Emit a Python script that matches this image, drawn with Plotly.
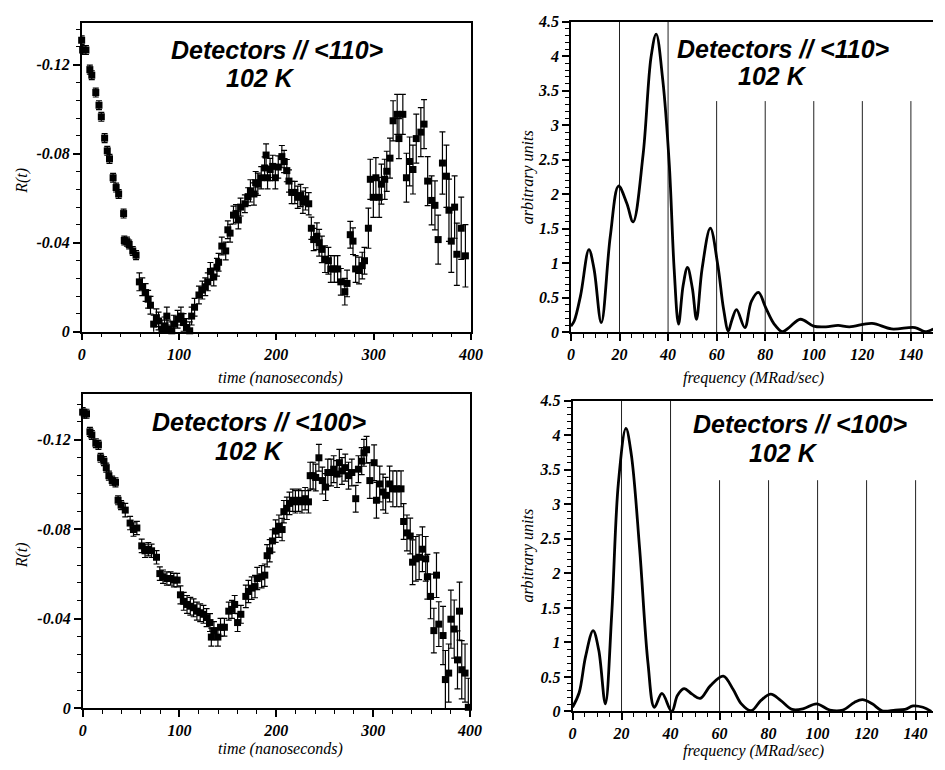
import plotly.graph_objects as go

# ---------------- <110> detectors: time spectrum R(t) ----------------
t110 = [0, 1, 4.4, 8.4, 10.4, 14.5, 17.8, 20.2, 23.6, 26.3, 28.6, 32.3, 35.4, 38, 43.1, 43.8, 46.5, 48.8,
        52.5, 55.9, 59.3, 62.3, 65.7, 68.3, 70.7, 74, 76.8, 79, 82.5, 85.2, 87.5, 88.6, 92.6, 94.6, 98.6,
        102, 104.7, 107.7, 111, 113, 116, 120.5, 124, 127, 129.6, 132.3, 135.7, 139, 140.7, 144, 148,
        150.2, 152.5, 156, 158.6, 161, 163.3, 167.7, 171, 173.4, 177, 178.8, 181, 184.5, 188, 189.5, 191,
        193.6, 196.3, 199, 202, 205.7, 208, 210.8, 213, 215.8, 219, 222, 225, 227.3, 230, 233.3, 236,
        238.4, 241.7, 244, 246.8, 250, 253.5, 256, 259.6, 263, 266.3, 270.4, 272.7, 276, 278.8, 281.5,
        285, 288.3, 290.6, 294.6, 296.6, 299.7, 302.3, 305.7, 308, 311.4, 313.5, 316.8, 320, 324.2, 326,
        330, 333.7, 337, 340.4, 343.8, 348.5, 351.8, 355.5, 359.6, 363, 366.3, 370.7, 374.8, 377.4,
        379.8, 383.2, 385.5, 390, 394.3]
r110 = [-0.131, -0.1266, -0.1266, -0.1178, -0.1153, -0.1075, -0.1018, -0.0966, -0.087, -0.0813, -0.0777,
        -0.0692, -0.0648, -0.0619, -0.0531, -0.041, -0.0405, -0.0392, -0.0363, -0.0344, -0.0224, -0.0202,
        -0.0176, -0.0146, -0.0119, -0.0034, -0.0063, -0.0048, -0.0012, -0.0026, -0.007, -0.0012, -0.0004,
        -0.0034, -0.0056, -0.007, -0.0041, -0.0019, -0.0004, -0.007, -0.011, -0.0165, -0.0187, -0.0202,
        -0.0224, -0.0271, -0.0246, -0.029, -0.0312, -0.0385, -0.0363, -0.0458, -0.0443, -0.0524, -0.0531,
        -0.0502, -0.056, -0.0575, -0.0607, -0.0633, -0.0619, -0.067, -0.0663, -0.0692, -0.0736, -0.0794,
        -0.0692, -0.0729, -0.0743, -0.0692, -0.074, -0.0787, -0.0765, -0.0724, -0.0677, -0.0626, -0.0626,
        -0.0604, -0.0612, -0.0582, -0.0597, -0.0575, -0.0465, -0.0414, -0.0429, -0.04, -0.037, -0.0326,
        -0.0319, -0.0282, -0.0282, -0.0282, -0.0224, -0.018, -0.0217, -0.0436, -0.0407, -0.0282, -0.0275,
        -0.0297, -0.0319, -0.0465, -0.0685, -0.0604, -0.0692, -0.0604, -0.0663, -0.0685, -0.0721, -0.078,
        -0.0948, -0.0977, -0.0868, -0.0977, -0.0692, -0.0765, -0.0729, -0.0868, -0.0897, -0.0933,
        -0.0677, -0.059, -0.0568, -0.0414, -0.0758, -0.0699, -0.0546, -0.0407, -0.056, -0.0348, -0.0465,
        -0.0341]
e110 = [0.002, 0.002, 0.002, 0.002, 0.002, 0.002, 0.002, 0.002, 0.002, 0.002, 0.002, 0.002, 0.002, 0.002,
        0.002, 0.002, 0.002, 0.002, 0.002, 0.002, 0.004, 0.004, 0.004, 0.004, 0.004, 0.004, 0.004, 0.004,
        0.004, 0.004, 0.004, 0.004, 0.004, 0.004, 0.004, 0.004, 0.004, 0.004, 0.004, 0.004, 0.004, 0.004,
        0.004, 0.004, 0.004, 0.004, 0.004, 0.004, 0.004, 0.004, 0.004, 0.004, 0.004, 0.004, 0.004, 0.004,
        0.004, 0.004, 0.004, 0.005, 0.005, 0.005, 0.005, 0.005, 0.005, 0.005, 0.005, 0.005, 0.005, 0.005,
        0.005, 0.005, 0.005, 0.005, 0.005, 0.005, 0.005, 0.005, 0.005, 0.005, 0.005, 0.005, 0.005, 0.005,
        0.006, 0.006, 0.006, 0.006, 0.006, 0.006, 0.006, 0.006, 0.006, 0.006, 0.006, 0.006, 0.006, 0.006,
        0.006, 0.006, 0.006, 0.009, 0.009, 0.009, 0.009, 0.009, 0.009, 0.009, 0.009, 0.009, 0.009, 0.009,
        0.009, 0.009, 0.011, 0.011, 0.011, 0.011, 0.011, 0.011, 0.011, 0.011, 0.011, 0.011, 0.014, 0.014,
        0.014, 0.014, 0.014, 0.014, 0.014, 0.014]

# ---------------- <100> detectors: time spectrum R(t) ----------------
t100 = [0, 1.7, 4, 7.5, 9.5, 13.6, 16.3, 18.6, 22, 24.4, 27.1, 30.5, 33.9, 36.6, 39.7, 44, 49, 52.5, 56,
        61, 64.4, 67.8, 71.2, 76.3, 79.7, 83, 87, 90.8, 94.2, 97.6, 101, 104.4, 107.8, 111.2, 114.6, 118,
        121.4, 124.8, 128, 131.5, 132.9, 135.6, 139.7, 142.4, 146.4, 150.9, 154.2, 157, 160, 163.4, 168.5,
        171.2, 174.6, 178, 180.3, 184.8, 188.1, 190.5, 193.2, 196, 199.3, 202.7, 206, 207.8, 210.9, 213.6,
        217, 219.7, 223, 226.5, 229.8, 233.2, 235, 238, 240.7, 244, 247.5, 250.9, 253.2, 256.6, 259.3,
        262.7, 265.1, 267.8, 271.2, 274.6, 278, 282, 284.8, 288.2, 290.5, 293.2, 296.6, 301, 303.4, 306.8,
        310.2, 312.9, 317, 320.4, 324.4, 328.8, 331.5, 334.9, 338.3, 340.7, 344.1, 347.5, 350.9, 354.3,
        356, 359.3, 362.7, 365.4, 367.8, 372.2, 374.6, 378, 380.3, 383.7, 387.1, 389.2, 391.5, 394.9,
        398.3]
r100 = [-0.1324, -0.1317, -0.1317, -0.1236, -0.1222, -0.1185, -0.1178, -0.112, -0.1105, -0.1076, -0.104,
        -0.1018, -0.101, -0.093, -0.0908, -0.0886, -0.0828, -0.0799, -0.0806, -0.0726, -0.0704, -0.0711,
        -0.0704, -0.0675, -0.0602, -0.0588, -0.058, -0.058, -0.0573, -0.0573, -0.0507, -0.0478, -0.0464,
        -0.0456, -0.0449, -0.0434, -0.0427, -0.042, -0.0405, -0.0383, -0.0318, -0.0347, -0.0318, -0.0362,
        -0.0362, -0.0434, -0.0442, -0.0464, -0.0383, -0.042, -0.05, -0.0522, -0.0537, -0.0544, -0.058,
        -0.0588, -0.0595, -0.0682, -0.0704, -0.0748, -0.0792, -0.0814, -0.0799, -0.0879, -0.0894,
        -0.0916, -0.093, -0.0923, -0.093, -0.0923, -0.0937, -0.0923, -0.104, -0.104, -0.1032, -0.112,
        -0.1018, -0.0989, -0.1054, -0.1054, -0.1069, -0.1047, -0.1098, -0.1061, -0.1076, -0.104, -0.1054,
        -0.0937, -0.1069, -0.1105, -0.1142, -0.1156, -0.1018, -0.1098, -0.093, -0.1003, -0.0967, -0.0952,
        -0.1003, -0.0981, -0.0981, -0.0981, -0.0835, -0.0784, -0.077, -0.0653, -0.0668, -0.0675, -0.0711,
        -0.0668, -0.0588, -0.05, -0.0347, -0.0595, -0.0376, -0.0325, -0.0128, -0.0157, -0.0398, -0.0354,
        -0.0216, -0.0434, -0.0172, -0.0157, -0.0004]
e100 = [0.002, 0.002, 0.002, 0.002, 0.002, 0.002, 0.002, 0.002, 0.002, 0.002, 0.002, 0.002, 0.002, 0.002,
        0.002, 0.003, 0.003, 0.003, 0.003, 0.003, 0.003, 0.003, 0.003, 0.003, 0.003, 0.003, 0.003, 0.003,
        0.003, 0.003, 0.004, 0.004, 0.004, 0.004, 0.004, 0.004, 0.004, 0.004, 0.004, 0.004, 0.004, 0.004,
        0.004, 0.004, 0.004, 0.004, 0.004, 0.004, 0.004, 0.004, 0.005, 0.005, 0.005, 0.005, 0.005, 0.005,
        0.005, 0.005, 0.005, 0.005, 0.005, 0.005, 0.005, 0.005, 0.005, 0.005, 0.005, 0.005, 0.005, 0.005,
        0.005, 0.005, 0.006, 0.006, 0.006, 0.006, 0.006, 0.006, 0.006, 0.006, 0.006, 0.006, 0.006, 0.006,
        0.006, 0.006, 0.006, 0.006, 0.006, 0.006, 0.006, 0.006, 0.008, 0.008, 0.008, 0.008, 0.008, 0.008,
        0.008, 0.008, 0.008, 0.008, 0.008, 0.008, 0.008, 0.01, 0.01, 0.01, 0.01, 0.01, 0.01, 0.01, 0.01,
        0.01, 0.01, 0.013, 0.013, 0.013, 0.013, 0.013, 0.013, 0.013, 0.013, 0.013, 0.013]

# ---------------- Fourier spectra ----------------
f110 = [0, 1.35, 4, 7.4, 9.5, 12.5, 16.2, 19.6, 23, 25.6, 29.7, 33, 35.1, 37.8, 40.5, 42.5, 44.3, 46.2, 48,
        50, 51.7, 54, 57.4, 60.5, 62.8, 64.8, 66.2, 68.2, 71.6, 74.3, 77.2, 80.3, 83.7, 87, 89.8, 94.5,
        99.9, 105, 110, 114.7, 124, 132, 141.7, 145.8, 149.2]
a110 = [0.09, 0.165, 0.54, 1.2, 0.92, 0.14, 1.39, 2.12, 1.87, 1.6, 2.57, 3.99, 4.32, 3.66, 2.43, 0.92, 0.12,
        0.68, 0.94, 0.64, 0.19, 0.92, 1.51, 0.97, 0.35, 0.02, 0.17, 0.33, 0.07, 0.45, 0.58, 0.35, 0.12,
        0.01, 0.07, 0.19, 0.09, 0.08, 0.1, 0.08, 0.13, 0.05, 0.07, 0.01, 0.05]

f100 = [0, 2.7, 5.3, 8.4, 10.7, 13.4, 16, 18.7, 21.8, 24, 27.4, 30.8, 33.4, 36.5, 40.5, 42.8, 45.5, 48.8,
        52.1, 56.2, 61.5, 65.5, 68.9, 72.9, 76.9, 80.9, 84.9, 89.6, 94.3, 99.6, 105, 110.3, 115, 118.3,
        122.3, 126.3, 131.7, 135.7, 139, 143, 146.4]
a100 = [0.06, 0.27, 0.79, 1.17, 0.89, 0.11, 1.41, 3.3, 4.1, 3.72, 2.35, 0.7, 0.06, 0.26, 0.0, 0.23, 0.33,
        0.25, 0.19, 0.37, 0.51, 0.32, 0.11, 0.01, 0.16, 0.25, 0.16, 0.03, 0.04, 0.11, 0.02, 0.02, 0.13,
        0.17, 0.11, 0.01, 0.02, 0.03, 0.08, 0.06, 0.0]

time_ticks = [0, 100, 200, 300, 400]
r_ticks = [0, -0.04, -0.08, -0.12]
r_labels = ["0", "-0.04", "-0.08", "-0.12"]
freq_grid_full = [20, 40]
freq_grid_short = [60, 80, 100, 120, 140]

W, H = 945, 770
SERIF = "Liberation Serif"
SANS = "Liberation Sans"
tick_font = dict(family=SERIF, size=16, color="black", weight="bold", style="italic")
title_font = dict(family=SERIF, size=16, color="black", style="italic")
label_font = dict(family=SANS, size=25, color="black", weight="bold", style="italic")


def px_x(p):
    return p / W


def px_y(p):
    return 1 - p / H


fig = go.Figure()


def add_points(t, r, e, xa, ya):
    fig.add_trace(go.Scatter(
        x=t, y=r, mode="markers", xaxis=xa, yaxis=ya, cliponaxis=False,
        marker=dict(symbol="square", size=7, color="black"),
        error_y=dict(type="data", array=e, visible=True, color="black", thickness=1.2, width=3),
        showlegend=False, hoverinfo="x+y"))


def add_spectrum(f, a, xa, ya):
    fig.add_trace(go.Scatter(
        x=f, y=a, mode="lines", xaxis=xa, yaxis=ya,
        line=dict(color="black", width=2.8, shape="spline", smoothing=1.0),
        showlegend=False))


add_points(t110, r110, e110, "x", "y")
add_spectrum(f110, a110, "x2", "y2")
add_points(t100, r100, e100, "x3", "y3")
add_spectrum(f100, a100, "x4", "y4")


def major_axis(**kw):
    base = dict(showline=True, linecolor="black", linewidth=1.5, showgrid=False, zeroline=False,
                ticks="outside", ticklen=7, tickwidth=1.5, tickcolor="black", tickfont=tick_font)
    base.update(kw)
    return base


def minor_ticks(step):
    return dict(dtick=step, tick0=0, ticklen=4, tickwidth=1, ticks="outside", tickcolor="black")


fig.update_layout(
    # time-axis panels (left column); R(t) runs from 0 at the bottom to negative values upward
    xaxis=major_axis(domain=[px_x(79), px_x(475)], range=[0, 400], tickmode="array",
                     tickvals=time_ticks, mirror=True, minor=minor_ticks(20), anchor="y"),
    yaxis=major_axis(domain=[px_y(331), px_y(15)], range=[0, -0.1389], tickmode="array",
                     tickvals=r_ticks, ticktext=r_labels, mirror=True, minor=minor_ticks(0.008),
                     anchor="x"),
    xaxis3=major_axis(domain=[px_x(80), px_x(474)], range=[0, 400], tickmode="array",
                      tickvals=time_ticks, mirror=True, minor=minor_ticks(20), anchor="y3"),
    yaxis3=major_axis(domain=[px_y(716), px_y(395)], range=[0, -0.1404], tickmode="array",
                      tickvals=r_ticks, ticktext=r_labels, mirror=True, minor=minor_ticks(0.008),
                      anchor="x3"),
    # frequency-axis panels (right column)
    xaxis2=major_axis(domain=[px_x(576.7), 1.0], range=[0, 149.1], tickmode="linear", tick0=0,
                      dtick=20, mirror=True, minor=minor_ticks(5), anchor="y2"),
    yaxis2=major_axis(domain=[px_y(331.7), px_y(14)], range=[0, 4.5], tickmode="linear", tick0=0,
                      dtick=0.5, minor=minor_ticks(0.1), anchor="x2"),
    xaxis4=major_axis(domain=[px_x(578.3), 1.0], range=[0, 147.1], tickmode="linear", tick0=0,
                      dtick=20, mirror=True, minor=minor_ticks(5), anchor="y4"),
    yaxis4=major_axis(domain=[px_y(719.3), px_y(401.7)], range=[0, 4.5], tickmode="linear", tick0=0,
                      dtick=0.5, minor=minor_ticks(0.1), anchor="x4"),
)

# vertical reference lines in the spectra
shapes = []
for xr, yr in [("x2", "y2"), ("x4", "y4")]:
    for g in freq_grid_full:
        shapes.append(dict(type="line", xref=xr, yref=yr, x0=g, x1=g, y0=0, y1=4.5,
                           line=dict(color="#222", width=1), layer="below"))
    for g in freq_grid_short:
        shapes.append(dict(type="line", xref=xr, yref=yr, x0=g, x1=g, y0=0, y1=3.35,
                           line=dict(color="#222", width=1), layer="below"))
fig.update_layout(shapes=shapes)

annotations = []


def note(text, x, y, font, angle=0):
    annotations.append(dict(text=text, x=px_x(x), y=px_y(y), xref="paper", yref="paper",
                            showarrow=False, font=font, textangle=angle,
                            xanchor="center", yanchor="middle"))


# panel labels
note("Detectors // &lt;110&gt;", 278, 43, label_font)
note("102 K", 261, 72, label_font)
note("Detectors // &lt;110&gt;", 793, 42, label_font)
note("102 K", 782, 70, label_font)
note("Detectors // &lt;100&gt;", 259, 423, label_font)
note("102 K", 250, 453, label_font)
note("Detectors // &lt;100&gt;", 810, 425, label_font)
note("102 K", 793, 455, label_font)

# axis titles
note("time (nanoseconds)", 281, 378, title_font)
note("time (nanoseconds)", 281, 758, title_font)
note("frequency (MRad/sec)", 762, 378, title_font)
note("frequency (MRad/sec)", 762, 760, title_font)
note("R(t)", 18, 177, title_font, -90)
note("R(t)", 18, 560, title_font, -90)
note("arbitrary units", 533, 173, title_font, -90)
note("arbitrary units", 533, 560, title_font, -90)

fig.update_layout(annotations=annotations, width=W, height=H,
                  margin=dict(l=0, r=0, t=0, b=0),
                  paper_bgcolor="white", plot_bgcolor="white")

fig.write_html("out.html")
